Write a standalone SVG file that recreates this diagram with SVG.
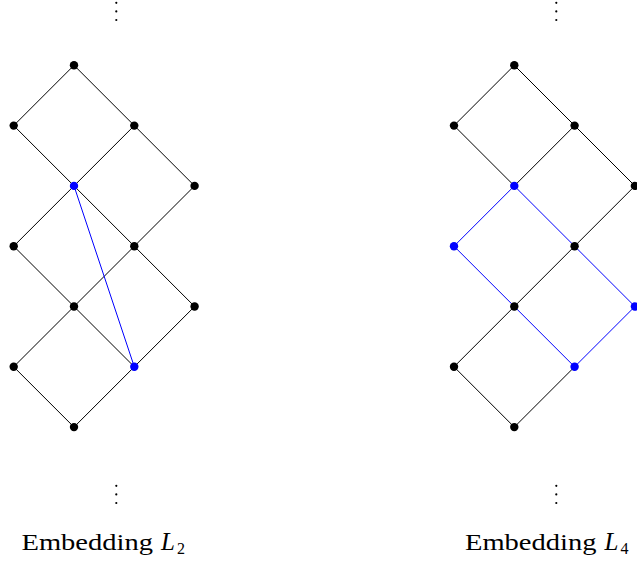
<svg xmlns="http://www.w3.org/2000/svg" width="637" height="565" viewBox="0 0 637 565">
<style>
.e{stroke:#000;stroke-width:1;fill:none}
.b{stroke:#0000ff;stroke-width:1;fill:none}
.n{fill:#000}
.nb{fill:#0000ff}
.lbl{font-family:"Liberation Serif","DejaVu Serif",serif;fill:#000}
.d{fill:#000}
</style>
<defs>
<g id="vdots"><circle cx="0" cy="0" r="1.1"/><circle cx="0" cy="8.6" r="1.1"/><circle cx="0" cy="17.2" r="1.1"/></g>
</defs>
<g id="connectors">
<path class="e" d="M74,65.3L13.7,125.6M74,65.3L134.3,125.6M13.7,125.6L74,185.9M134.3,125.6L74,185.9M134.3,125.6L194.6,185.9M74,185.9L13.7,246.2M74,185.9L134.3,246.2M194.6,185.9L134.3,246.2M13.7,246.2L74,306.5M134.3,246.2L74,306.5M134.3,246.2L194.6,306.5M74,306.5L13.7,366.8M74,306.5L134.3,366.8M194.6,306.5L134.3,366.8M13.7,366.8L74,427.1M134.3,366.8L74,427.1"/>
<path class="b" d="M74,185.9L134.3,366.8"/>
<path class="e" d="M514.3,65.3L454,125.6M514.3,65.3L574.6,125.6M454,125.6L514.3,185.9M574.6,125.6L514.3,185.9M574.6,125.6L634.9,185.9M634.9,185.9L574.6,246.2M574.6,246.2L514.3,306.5M514.3,306.5L454,366.8M454,366.8L514.3,427.1M574.6,366.8L514.3,427.1"/>
<path class="b" d="M514.3,185.9L454,246.2M514.3,185.9L574.6,246.2M574.6,246.2L634.9,306.5M454,246.2L514.3,306.5M514.3,306.5L574.6,366.8M634.9,306.5L574.6,366.8"/>
</g>
<g id="left-nodes">
<g id="L-1-0"><circle class="n" cx="74" cy="65.3" r="4.2"/></g>
<g id="L-0-1"><circle class="n" cx="13.7" cy="125.6" r="4.2"/></g>
<g id="L-2-1"><circle class="n" cx="134.3" cy="125.6" r="4.2"/></g>
<g id="L-1-2"><circle class="nb" cx="74" cy="185.9" r="4.2"/></g>
<g id="L-3-2"><circle class="n" cx="194.6" cy="185.9" r="4.2"/></g>
<g id="L-0-3"><circle class="n" cx="13.7" cy="246.2" r="4.2"/></g>
<g id="L-2-3"><circle class="n" cx="134.3" cy="246.2" r="4.2"/></g>
<g id="L-1-4"><circle class="n" cx="74" cy="306.5" r="4.2"/></g>
<g id="L-3-4"><circle class="n" cx="194.6" cy="306.5" r="4.2"/></g>
<g id="L-0-5"><circle class="n" cx="13.7" cy="366.8" r="4.2"/></g>
<g id="L-2-5"><circle class="nb" cx="134.3" cy="366.8" r="4.2"/></g>
<g id="L-1-6"><circle class="n" cx="74" cy="427.1" r="4.2"/></g>
</g>
<g id="right-nodes">
<g id="R-1-0"><circle class="n" cx="514.3" cy="65.3" r="4.2"/></g>
<g id="R-0-1"><circle class="n" cx="454" cy="125.6" r="4.2"/></g>
<g id="R-2-1"><circle class="n" cx="574.6" cy="125.6" r="4.2"/></g>
<g id="R-1-2"><circle class="nb" cx="514.3" cy="185.9" r="4.2"/></g>
<g id="R-3-2"><circle class="n" cx="634.9" cy="185.9" r="4.2"/></g>
<g id="R-0-3"><circle class="nb" cx="454" cy="246.2" r="4.2"/></g>
<g id="R-2-3"><circle class="n" cx="574.6" cy="246.2" r="4.2"/></g>
<g id="R-1-4"><circle class="n" cx="514.3" cy="306.5" r="4.2"/></g>
<g id="R-3-4"><circle class="nb" cx="634.9" cy="306.5" r="4.2"/></g>
<g id="R-0-5"><circle class="n" cx="454" cy="366.8" r="4.2"/></g>
<g id="R-2-5"><circle class="nb" cx="574.6" cy="366.8" r="4.2"/></g>
<g id="R-1-6"><circle class="n" cx="514.3" cy="427.1" r="4.2"/></g>
</g>
<g id="dots" class="d">
<use href="#vdots" x="116.3" y="2.8"/>
<use href="#vdots" x="556.3" y="2.8"/>
<use href="#vdots" x="116.3" y="485.8"/>
<use href="#vdots" x="556.3" y="485.8"/>
</g>
<g id="labels">
<text class="lbl" x="21.5" y="550" font-size="24" textLength="131.5" lengthAdjust="spacingAndGlyphs">Embedding</text>
<text class="lbl" x="161" y="550" font-size="25" font-style="italic">L</text>
<text class="lbl" x="177" y="554" font-size="16">2</text>
<text class="lbl" x="465" y="550" font-size="24" textLength="131.5" lengthAdjust="spacingAndGlyphs">Embedding</text>
<text class="lbl" x="604.5" y="550" font-size="25" font-style="italic">L</text>
<text class="lbl" x="620.5" y="554" font-size="16">4</text>
</g>
</svg>
